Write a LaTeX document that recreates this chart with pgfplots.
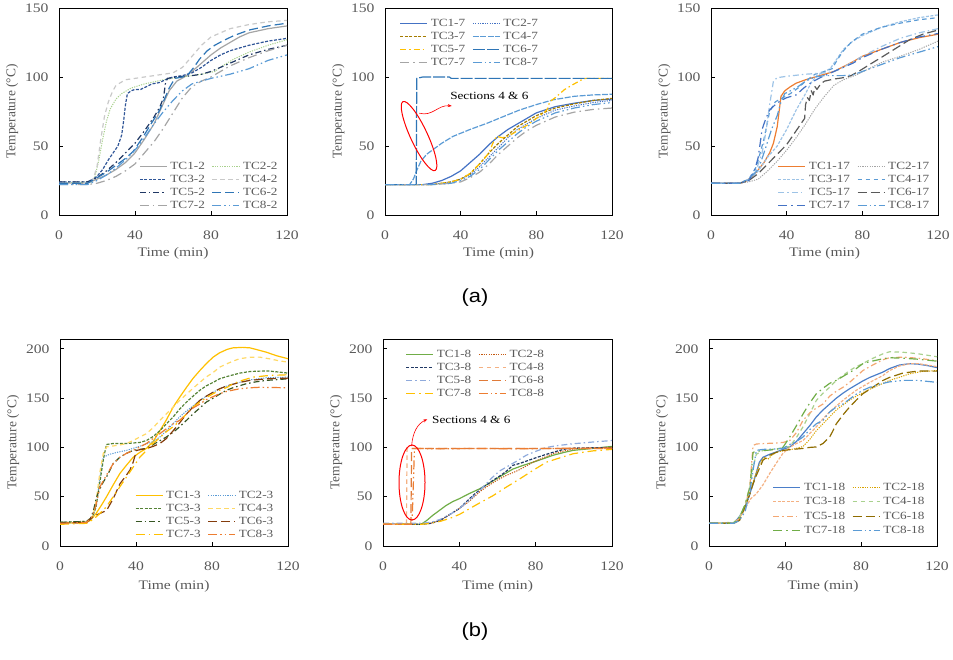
\documentclass[border=0pt]{standalone}
\usepackage{fontspec}
\setmainfont{Liberation Serif}[FakeStretch=1.2]
\newfontfamily\ylabfont{Liberation Serif}
\newfontfamily\sansfont{Liberation Sans}[FakeStretch=1.15]
\usepackage{pgfplots}
\pgfplotsset{compat=1.18}
\usetikzlibrary{shapes.geometric,arrows.meta}

\definecolor{tgray}{HTML}{595959}
\definecolor{gray1}{HTML}{A5A5A5}
\definecolor{lgray}{HTML}{C9C9C9}
\definecolor{lgreen}{HTML}{A9D18E}
\definecolor{dblue}{HTML}{2F5597}
\definecolor{navy}{HTML}{203864}
\definecolor{mblue}{HTML}{2E75B6}
\definecolor{lblue}{HTML}{5B9BD5}
\definecolor{pblue}{HTML}{9DC3E6}
\definecolor{blue1}{HTML}{4472C4}
\definecolor{gold}{HTML}{A57C00}
\definecolor{yel}{HTML}{FFC000}
\definecolor{lyel}{HTML}{FFD966}
\definecolor{orange1}{HTML}{ED7D31}
\definecolor{dorange}{HTML}{C55A11}
\definecolor{salmon}{HTML}{F4B183}
\definecolor{green1}{HTML}{70AD47}
\definecolor{dgreen}{HTML}{548235}
\definecolor{ddgreen}{HTML}{375623}
\definecolor{brown1}{HTML}{843C0C}
\definecolor{olive}{HTML}{8F6C00}
\definecolor{dgray}{HTML}{595959}
\definecolor{lav}{HTML}{8FAADC}
\definecolor{mdorange}{HTML}{E07B39}

\tikzset{
 sdot/.style={dash pattern=on 1.2pt off 1.2pt, line width=1pt},
 sdash/.style={dash pattern=on 3pt off 1.5pt},
 mdash/.style={dash pattern=on 4.5pt off 3.5pt},
 ndash/.style={dash pattern=on 6pt off 1.5pt},
 ddot/.style={dash pattern=on 6pt off 3pt on 1.5pt off 3pt},
 ldash/.style={dash pattern=on 9pt off 4pt},
 lldash/.style={dash pattern=on 12pt off 2pt},
 lddot/.style={dash pattern=on 9pt off 4pt on 1.5pt off 4pt},
 ldd2/.style={dash pattern=on 9pt off 3pt on 1.5pt off 3pt on 1.5pt off 3pt},
}

\pgfplotsset{
  panel/.style={
    scale only axis, width=228pt, height=207pt,
    xmin=0, xmax=120, ymin=0,
    xtick={0,40,80,120},
    tick align=inside, tick pos=left, major tick length=4pt,
    axis line style={black, line width=0.8pt},
    tick style={black, line width=0.8pt},
    /pgf/number format/assume math mode=true,
    tick label style={font=\fontsize{13}{15}\selectfont, text=tgray},
    xticklabel style={yshift=-12pt},
    yticklabel style={xshift=-7pt},
    xlabel={Time (min)}, ylabel={Temperature (°C)},
    xlabel style={font=\fontsize{13}{15}\selectfont, text=tgray, at={(axis description cs:0.5,-0.185)}, anchor=center},
    ylabel style={font=\ylabfont\fontsize{13.4}{15}\selectfont, text=tgray, at={(axis description cs:-0.205,0.5)}, anchor=center},
    legend style={draw=none, fill=none, font=\fontsize{11}{12}\selectfont, text=tgray,
      nodes={inner sep=1pt, text height=7.5pt, text depth=1pt}, row sep=2.5pt,
      /tikz/every odd column/.append style={column sep=2pt},
      /tikz/every even column/.append style={column sep=6pt}},
    legend columns=2,
    legend cell align=left,
    legend image code/.code={\draw[##1] (0pt,0pt) -- (27pt,0pt);},
    every axis plot/.append style={line width=1.2pt, line join=round},
  }
}

\begin{document}
\begin{tikzpicture}
\path[use as bounding box] (0pt,0pt) rectangle (953pt,660pt);

% ---------- Panel 1 ----------
\begin{axis}[panel, at={(59pt,445pt)}, anchor=south west, ymax=150, ytick={0,50,100,150},
  legend style={at={(axis description cs:0.977,0.27)}, anchor=north east}]
\addplot[gray1] coordinates {(0,23)(15,23)(20,26)(25,29)(30,33)(35,38)(40,45)(45,55)(50,66)(54,78)(58,90)(62,97)(66,100)(70,104)(75,110)(80,116)(85,121)(90,125)(95,129)(100,132)(110,135)(120,137)};
\addlegendentry{TC1-2}
\addplot[lgreen, sdot] coordinates {(0,23)(17,24)(19,28)(21,40)(23,55)(25,68)(27,77)(30,84)(33,88)(38,92)(45,95)(55,98)(65,100)(75,102)(82,104)(86,108)(92,113)(100,118)(110,123)(120,127)};
\addlegendentry{TC2-2}
\addplot[dblue, sdash] coordinates {(0,24)(15,24)(18,26)(20,28)(23,33)(26,40)(29,46)(31,50)(33,58)(34,68)(35,80)(36,88)(38,90)(40,91)(43,91)(46,93)(49,95)(53,96)(56,98)(60,100)(65,101)(70,103)(75,107)(80,112)(85,116)(90,119)(100,123)(110,126)(120,128)};
\addlegendentry{TC3-2}
\addplot[lgray, mdash] coordinates {(0,23)(15,23)(18,26)(20,35)(22,55)(24,72)(26,82)(28,89)(30,94)(35,98)(40,99)(50,101)(60,103)(65,107)(70,115)(75,123)(80,129)(90,135)(100,138)(110,140)(120,141)};
\addlegendentry{TC4-2}
\addplot[navy, ddot] coordinates {(0,24)(15,24)(20,27)(25,32)(30,38)(35,45)(40,52)(45,61)(50,71)(53,78)(55,85)(56,95)(57,99)(62,100)(70,101)(75,102)(80,104)(85,107)(90,110)(95,113)(100,116)(110,120)(120,123)};
\addlegendentry{TC5-2}
\addplot[mblue, ldash] coordinates {(0,23)(15,23)(20,27)(25,31)(30,36)(35,41)(39,46)(44,56)(48,65)(53,76)(58,92)(61,99)(65,100)(68,102)(71,107)(74,113)(78,119)(82,123)(86,126)(92,130)(100,134)(110,137)(120,139)};
\addlegendentry{TC6-2}
\addplot[gray1, lddot] coordinates {(0,22)(15,22)(20,23)(25,25)(30,28)(35,32)(40,37)(45,45)(50,53)(55,63)(60,74)(65,85)(70,93)(75,97)(80,100)(85,104)(90,108)(100,114)(110,119)(120,123)};
\addlegendentry{TC7-2}
\addplot[lblue, ldd2] coordinates {(0,22)(15,22)(20,25)(25,29)(30,34)(35,40)(40,47)(45,56)(50,66)(55,75)(60,83)(65,90)(70,95)(75,97)(80,99)(90,102)(95,104)(100,106)(105,109)(110,112)(120,116)};
\addlegendentry{TC8-2}
\end{axis}

% ---------- Panel 2 ----------
\begin{axis}[panel, at={(385pt,445pt)}, anchor=south west, width=227pt, ymax=150, ytick={0,50,100,150},
  legend style={at={(axis description cs:0.05,0.96)}, anchor=north west}]
\addplot[blue1] coordinates {(0,22)(20,22)(25,23)(30,25)(35,28)(40,32)(45,38)(50,44)(55,51)(60,57)(65,62)(70,66)(75,70)(80,74)(90,78.5)(100,81)(110,83)(120,84)};
\addlegendentry{TC1-7}
\addplot[blue1, sdot] coordinates {(0,22)(25,22)(35,24)(40,26)(45,29)(50,35)(55,42)(60,49)(65,56)(70,62)(75,66)(80,70)(90,76)(100,79)(110,81.5)(120,83)};
\addlegendentry{TC2-7}
\addplot[gold, sdash] coordinates {(0,22)(25,22)(30,23)(35,24)(40,26)(45,30)(50,37)(55,45)(60,52)(65,58)(70,64)(75,68)(80,72)(90,77.5)(100,80.5)(110,83)(120,84.5)};
\addlegendentry{TC3-7}
\addplot[lblue, ndash] coordinates {(0,22)(13,22)(15,26)(17,33)(19,39)(22,44)(26,48)(30,52)(36,57)(45,62)(54,66.5)(62,71)(71,76)(80,80)(89,83.5)(100,86)(110,87)(120,87.5)};
\addlegendentry{TC4-7}
\addplot[yel, ddot] coordinates {(0,22)(25,22)(35,24)(40,26)(45,30)(50,37)(55,45)(57,52)(59,57)(62,56)(65,57)(70,61)(75,65)(80,70)(84,74)(86,77)(87,82)(90,85)(95,91)(100,95)(104,98)(106,99)(120,99)};
\addlegendentry{TC5-7}
\addplot[mblue, lldash] coordinates {(0,22)(16.5,22)(16.8,99)(20,100)(34,100)(35,99)(120,99)};
\addlegendentry{TC6-7}
\addplot[gray1, lddot] coordinates {(0,22)(25,22)(35,23)(40,24)(45,27)(50,31)(55,37)(60,44)(65,50)(70,56)(75,61)(80,65)(90,71)(100,74.5)(110,76.5)(120,77.5)};
\addlegendentry{TC7-7}
\addplot[lblue, ldd2] coordinates {(0,22)(25,22)(35,23)(40,25)(45,28)(50,33)(55,40)(60,47)(65,53)(70,59)(75,64)(80,68)(90,74)(100,77.5)(110,80)(120,81.5)};
\addlegendentry{TC8-7}
\node[draw=red, ellipse, line width=1pt, minimum width=76pt, minimum height=17pt, rotate=-65] at (axis cs:18,57.2) {};
\draw[red, line width=0.6pt, -{Stealth[length=4pt]}] (axis cs:18.1,73.8) .. controls (axis cs:25,71) and (axis cs:28,80) .. (axis cs:35.3,79);
\node[anchor=west, inner sep=0pt, font=\fontsize{11}{12}\selectfont, text=black] at (axis cs:34.4,86.2) {Sections 4 \& 6};
\end{axis}

% ---------- Panel 3 ----------
\begin{axis}[panel, at={(711pt,445pt)}, anchor=south west, width=227pt, ymax=150, ytick={0,50,100,150},
  legend style={at={(axis description cs:0.98,0.27)}, anchor=north east}]
\addplot[orange1] coordinates {(0,23)(15,23)(18,24)(21,27)(24,31)(28,38)(31,45)(33,52)(35,64)(36,75)(37,86)(39,90)(42,93)(45,95.5)(50,98)(55,100)(60,102)(65,104)(70,107.5)(75,111)(80,115)(90,120)(100,125)(110,128.5)(120,131)};
\addlegendentry{TC1-17}
\addplot[gray1, sdot] coordinates {(0,23)(15,23)(20,24)(25,26)(30,32)(35,39)(40,47)(45,56)(50,66)(55,77)(60,86)(65,94)(70,98)(77,101.6)(85,107)(91,111)(100,115)(110,120)(120,126)};
\addlegendentry{TC2-17}
\addplot[pblue, sdash] coordinates {(0,23)(15,23)(20,25)(25,32)(30,42)(35,50)(40,62)(45,76)(50,88)(53,96)(56,101)(60,104)(63,106)(66,112)(70,120)(75,126)(80,130)(90,136)(100,140)(110,143)(120,145)};
\addlegendentry{TC3-17}
\addplot[lblue, mdash] coordinates {(0,23)(15,23)(20,26)(24,35)(28,55)(31,75)(34,82)(38,85)(42,88)(46,92)(50,97)(55,102)(60,104)(64,106)(67,113)(70,119)(74,125)(80,131)(90,136)(100,139)(110,141.5)(120,143)};
\addlegendentry{TC4-17}
\addplot[pblue, ddot] coordinates {(0,23)(15,23)(20,26)(24,33)(27,45)(29,60)(31,80)(33,97)(35,99.5)(40,100.5)(50,102)(60,103)(65,104)(70,107)(75,111)(80,115)(90,122)(100,128)(110,132)(120,135)};
\addlegendentry{TC5-17}
\addplot[dgray, ldash] coordinates {(0,23)(15,23)(20,25)(25,30)(30,37)(35,44)(40,51)(45,61)(48,67)(49.5,70)(50,80)(51,85)(52,83)(53,90)(54,87)(55,93)(56,91)(58,95)(60,97)(65,98.5)(70,99.5)(74,101)(78,104)(85,110)(91,115)(98,121)(105,127)(112,131)(120,134)};
\addlegendentry{TC6-17}
\addplot[blue1, lddot] coordinates {(0,23)(15,23)(20,25)(23,32)(25,42)(27,62)(29,70)(31,76)(34,80)(37,83)(40,85)(45,87)(49,92)(53,96)(57,99)(60,101)(65,104)(70,107)(75,110)(80,114)(90,120)(100,125)(110,129)(120,131.5)};
\addlegendentry{TC7-17}
\addplot[lblue, ldd2] coordinates {(0,23)(15,23)(20,26)(25,33)(28,45)(32,62)(35,72)(37,82)(39,88)(42,90)(46,93)(50,97)(55,100)(60,101)(70,101)(75,101.5)(80,104)(90,109)(100,114)(110,118)(120,122)};
\addlegendentry{TC8-17}
\end{axis}

% ---------- Panel 4 ----------
\begin{axis}[panel, at={(60pt,114pt)}, anchor=south west, ymax=210, ytick={0,50,100,150,200},
  xlabel style={at={(axis description cs:0.5,-0.195)}},
  legend style={at={(axis description cs:0.954,0.28)}, anchor=north east}]
\addplot[yel] coordinates {(0,23)(14,24)(16,26)(19,33)(22,42)(24.5,50)(28,62)(31.5,73.5)(35,82)(38.5,90)(42,95)(45.5,99)(49,106)(52.6,117)(56,128)(59.6,141)(63,151)(66.6,161)(70,170)(73.6,178)(77,185)(80.6,191.6)(84,196)(88,199.5)(91,201)(96,201.5)(100,201)(104,199)(108.6,196.6)(114,193)(120,190)};
\addlegendentry{TC1-3}
\addplot[lblue, sdot] coordinates {(0,23)(14,24)(17,28)(19,40)(21,70)(22.8,90)(26,93)(30,95)(35,97)(40,100)(45,103)(49,106)(52.6,110.6)(56,117)(60,125)(63,131)(66.6,137)(70,142)(73.6,147.7)(77,152)(80.6,156)(84,159.5)(88,162.5)(94.6,166)(100,168.5)(108.6,170.7)(120,171.3)};
\addlegendentry{TC2-3}
\addplot[dgreen, sdash] coordinates {(0,24)(14,25)(17,29)(19,40)(21,65)(23,90)(24.5,103)(28,104)(35,104)(42,105)(45.5,107)(49,111)(52.6,117)(56,124)(59.6,131)(63,139)(66.6,146)(70,152)(73.6,158)(77,162.5)(80.6,166)(84,169.6)(88,172)(94.6,175.4)(100,177)(105,177.4)(110,177.5)(115,176.5)(120,175.4)};
\addlegendentry{TC3-3}
\addplot[lyel, mdash] coordinates {(0,23)(14,24)(17,29)(19,45)(21,75)(22.8,94)(24.5,100.5)(28,101.5)(31.5,102.5)(35,104)(38.5,107)(42,110.6)(45.5,114)(49,120)(52.6,127.5)(56,134)(59.6,141)(63,147.7)(66.6,154)(70,160)(73.6,166)(77,171.5)(80.6,176)(84,181.4)(88,185)(91,187.5)(94.6,190)(100,191.5)(105,191.6)(110,190)(115,188)(120,186.5)};
\addlegendentry{TC4-3}
\addplot[ddgreen, ddot] coordinates {(0,24)(14,25)(16,28)(17.5,35)(19.3,50)(21,58)(22.8,65)(24.5,70)(28,83.6)(31.5,90)(35,94)(38.5,97)(45.5,99)(50,104)(56,110.6)(60,116)(63,121)(66.6,127.5)(70,134)(73.6,140)(77,146)(80.6,150)(84,154)(87.6,158)(91,160.5)(98,164.6)(103,166.5)(108.6,168)(120,169.6)};
\addlegendentry{TC5-3}
\addplot[brown1, ldash] coordinates {(0,23)(14,24)(17.5,30)(21,33)(24.5,36)(28,48)(31.5,63)(35,72)(36.8,77)(38.5,85)(40.3,97)(45.5,99)(49,101)(52.6,104)(56,109)(59.6,117)(63,125)(66.6,134)(70,141)(73.6,147.7)(77,152)(80.6,156)(84,159.5)(88,162.5)(94.6,166)(100,168)(108.6,169.6)(120,170.3)};
\addlegendentry{TC6-3}
\addplot[yel, lddot] coordinates {(0,22)(14,23)(17.5,27)(21,33)(24.5,40)(28,50)(31.5,60)(35,70)(38.5,80)(42,90)(45.5,97)(49,104)(52.6,110)(56,116)(59.6,121)(63,127)(66.6,134)(70,141)(73.6,146)(77,150.5)(80.6,154.5)(84,158)(88,161)(91,164.6)(95,167.5)(101.6,171.3)(110,173)(120,173.7)};
\addlegendentry{TC7-3}
\addplot[orange1, ldd2] coordinates {(0,23)(14,24)(17,30)(19,42)(21,60)(24.5,72)(28,83.6)(31.5,90)(35,94)(38.5,97)(42,100.5)(45.5,104)(49,109)(52.6,114)(56,119)(59.6,124)(63,127.5)(66.6,134)(70,140)(73.6,144)(77,148.5)(80.6,151.5)(84,154.5)(88,157)(94.6,159.5)(100,160.5)(105,161)(120,160.5)};
\addlegendentry{TC8-3}
\end{axis}

% ---------- Panel 5 ----------
\begin{axis}[panel, at={(383pt,114pt)}, anchor=south west, width=229pt, ymax=210, ytick={0,50,100,150,200},
  xlabel style={at={(axis description cs:0.5,-0.195)}},
  legend style={at={(axis description cs:0.085,0.96)}, anchor=north west}]
\addplot[green1] coordinates {(0,22)(20,22)(23,26)(26,31)(29.5,36)(33,41)(36.5,45)(40,48)(45,53)(50.6,58)(55,63)(61,70)(64.5,74)(68,78)(73,81.5)(78.6,85)(84,88.5)(89,92)(95,95)(99.6,97)(110,99)(120,101)};
\addlegendentry{TC1-8}
\addplot[dorange, sdot] coordinates {(0,22)(20,22)(25,23)(30,26)(36.7,34)(40,38)(45,45)(50.6,55)(55,61)(60,67)(64.6,71.6)(70,76)(74,80)(78.6,85)(84,89.5)(89,93.6)(95,96.5)(100,98.5)(110,99.5)(120,100)};
\addlegendentry{TC2-8}
\addplot[navy, sdash] coordinates {(0,22)(20,22)(25,23)(30,26)(36.7,34)(40,38)(47,51)(52,59)(57.6,66.5)(62,72)(66,78)(68,81.8)(72,84)(78.6,88.5)(84,92)(89,95)(92.6,97)(96,98.5)(99.6,99.3)(120,100)};
\addlegendentry{TC3-8}
\addplot[salmon, mdash] coordinates {(0,22)(12.3,22)(12.6,99)(120,99)};
\addlegendentry{TC4-8}
\addplot[lav, ddot] coordinates {(0,23)(20,23)(25,24)(30,27)(35,32)(40,38)(45,46)(50,55)(54,63)(57,69)(61,76)(64.6,80)(70,86)(75,92)(80,96)(85.6,100)(92,102)(99.6,103.7)(110,105.5)(120,107)};
\addlegendentry{TC5-8}
\addplot[mdorange, ldash] coordinates {(0,22)(14.6,22)(15,99)(120,99)};
\addlegendentry{TC6-8}
\addplot[yel, lddot] coordinates {(0,22)(20,22)(25,23)(30,25)(35,28)(40,32)(43.7,36)(50,43)(57.6,51)(64,59)(71.6,68)(78,76)(85.6,85)(92,89)(99.6,93.6)(110,96.5)(120,98)};
\addlegendentry{TC7-8}
\addplot[orange1, ldd2] coordinates {(0,22)(15.2,22)(16.5,99)(30,98.5)(50,99)(70,98.5)(90,99)(120,99.5)};
\addlegendentry{TC8-8}
\node[draw=red, ellipse, line width=1pt, minimum width=26pt, minimum height=75pt] at (axis cs:15.2,64.4) {};
\draw[red, line width=0.6pt, -{Stealth[length=4pt]}] (axis cs:15,101.4) .. controls (axis cs:15.5,115) and (axis cs:18,124) .. (axis cs:23.2,128.5);
\node[anchor=west, inner sep=0pt, font=\fontsize{11}{12}\selectfont, text=black] at (axis cs:25.7,127.8) {Sections 4 \& 6};
\end{axis}

% ---------- Panel 6 ----------
\begin{axis}[panel, at={(709pt,114pt)}, anchor=south west, ymax=210, ytick={0,50,100,150,200},
  xlabel style={at={(axis description cs:0.5,-0.195)}},
  legend style={at={(axis description cs:0.963,0.32)}, anchor=north east, row sep=4pt}]
\addplot[blue1!70!lblue] coordinates {(0,23)(13,23)(16.1,30)(19,40)(21,50)(23.2,63)(25,75)(26.5,85)(28.4,90)(31.9,93)(35.4,95.4)(38.9,98)(42.5,100.5)(46,106)(49.5,114)(53,122)(56.5,131)(60,138)(63.5,144)(67,150)(70.5,155)(74,159.5)(77.5,163.5)(81,167.5)(84.6,171)(91.6,176.5)(95,180)(100,183.5)(105.6,185)(110,184.5)(115,183)(120,181)};
\addlegendentry{TC1-18}
\addplot[yel!85!black, sdot] coordinates {(0,23)(13,23)(16,27)(20,45)(23.2,65)(25,75)(27,85)(29,90)(31,88)(33,92)(35.4,95)(40,97)(45,98.5)(49.5,101)(53,108)(56.5,117)(60,124)(63.5,131)(67,138)(70.5,143)(74,148)(77.5,152)(81,155.5)(84.6,159)(91.6,165)(95,168)(100,171)(105.6,174.7)(112,177)(120,178)};
\addlegendentry{TC2-18}
\addplot[salmon, sdash] coordinates {(0,23)(13,23)(16,28)(19,38)(22,48)(24.9,53)(28.4,62)(31.9,73.5)(35.4,84)(38.9,94)(42.5,100)(46,104)(49.5,107)(53,114)(56.5,121)(60,129)(63.5,136)(67,142)(70.5,147.7)(74,153)(77.5,158)(81,162)(84.6,166)(91.6,173)(95,178)(100,182.5)(105.6,185)(110,185)(115,183.5)(120,182)};
\addlegendentry{TC3-18}
\addplot[lgreen, mdash] coordinates {(0,23)(13,24)(16,29)(19,42)(21.5,60)(23.2,80)(24.9,93)(28.4,97)(35.4,98.5)(42.5,101)(46,110)(49.5,121)(53,134)(56.5,147.7)(60,155)(63.5,161)(67,168)(70.5,173)(74,178)(77.5,182)(81,185)(84.6,189)(91.6,195)(95,197)(102,196.6)(110,195)(120,192)};
\addlegendentry{TC4-18}
\addplot[salmon!80!orange1, ddot] coordinates {(0,23)(13,23)(16,28)(19,40)(21.5,60)(22.5,85)(23.2,102)(25,103.5)(30,104)(35.4,104.5)(38.9,105)(42.5,107)(46,115)(49.5,127.5)(53,135)(56.5,140)(60,144)(63.5,152)(67,157)(70.5,161)(74,166)(77.5,172)(81,178)(84.6,182)(91.6,189)(95,191)(102,191.6)(110,190.5)(120,188)};
\addlegendentry{TC5-18}
\addplot[olive, ldash] coordinates {(0,23)(13,23)(16.1,26)(19,40)(21,50)(23.2,63)(25,72)(28.4,87)(31.9,92)(35.4,95)(38.9,97)(44,98)(49.5,99)(53,100)(56.5,100.5)(60,104)(63.5,110.6)(65,116)(67,124)(70.5,133)(74,141)(77.5,148)(81,154.5)(84.6,159)(91.6,168)(95,171)(102,175.4)(110,177.5)(120,177.4)};
\addlegendentry{TC6-18}
\addplot[green1, lddot] coordinates {(0,23)(13,23)(16,29)(19,42)(21.5,60)(22.5,80)(23.2,95)(25,96)(30,97)(35.4,98)(38.9,100)(42.5,110.6)(46,122)(49.5,134)(53,145)(56.5,154.5)(60,160)(63.5,165)(67,168)(70.5,172)(74,176)(77.5,180)(81,185)(84.6,187)(91.6,190)(95,191)(102,190.5)(110,189.5)(120,187.5)};
\addlegendentry{TC7-18}
\addplot[lblue, ldd2] coordinates {(0,23)(13,23)(16,26)(19,35)(21.5,55)(23.2,77)(24.9,97)(28.4,98)(35.4,98.5)(38.9,99)(42.5,103)(46,106)(49.5,110.6)(53,118)(56.5,124)(60,127.5)(63.5,136)(67,141)(70.5,144)(74,149)(77.5,154)(81,158)(84.6,161)(91.6,165)(95,166.5)(102,168)(110,168)(120,166)};
\addlegendentry{TC8-18}
\end{axis}

\node[font=\sansfont\fontsize{19}{22}\selectfont, text=black] at (475pt,362pt) {(a)};
\node[font=\sansfont\fontsize{19}{22}\selectfont, text=black] at (475pt,28pt) {(b)};
\end{tikzpicture}
\end{document}
